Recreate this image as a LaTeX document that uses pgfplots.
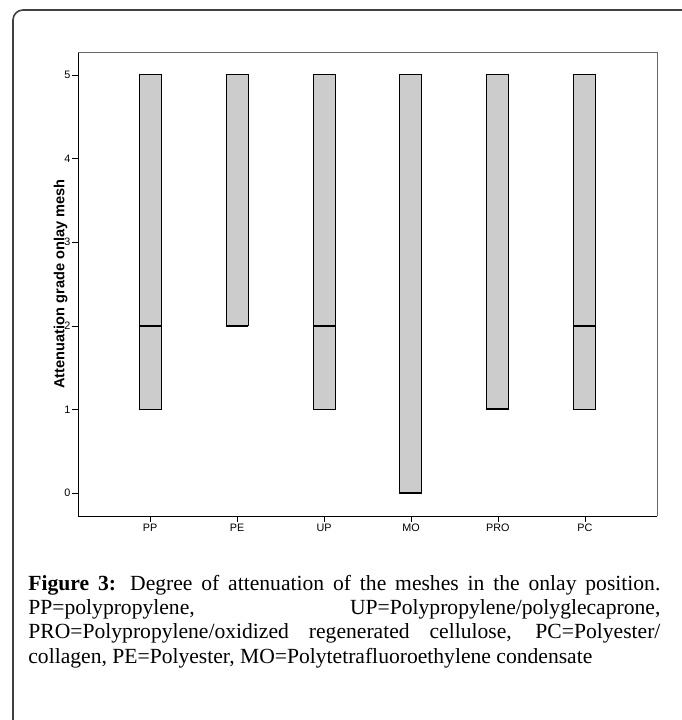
\documentclass[border=0pt]{standalone}
\usepackage{fontspec}
\setmainfont{Liberation Serif}
\setsansfont{Liberation Sans}
\usepackage{pgfplots}
\pgfplotsset{compat=1.18}
\usepgfplotslibrary{statistics}
\definecolor{boxgray}{HTML}{CCCCCC}
\begin{document}
\begin{tikzpicture}
\useasboundingbox (0,0) rectangle (341pt,360pt);
% rounded frame around figure (clipped at right and bottom)
\draw[rounded corners=5pt, line width=0.8pt, black!75] (6.5pt,-10pt) -- (6.5pt,355pt) -- (360pt,355pt);
\begin{axis}[
    at={(39pt,102pt)}, anchor=south west,
    scale only axis,
    width=289.5pt, height=232pt,
    xmin=-0.83, xmax=5.83,
    ymin=-0.275, ymax=5.275,
    axis lines*=left,
    axis line style={-, black},
    xtick={0,1,2,3,4,5},
    xticklabels={PP,PE,UP,MO,PRO,PC},
    ytick={0,1,2,3,4,5},
    tick align=outside,
    major tick length=3pt,
    tick style={black},
    /pgf/number format/assume math mode=true,
    tick label style={font=\sffamily\fontsize{5.4}{6}\selectfont},
    yticklabel style={inner sep=0.6pt},
    xticklabel style={inner sep=1pt},
    ylabel={Attenuation grade onlay mesh},
    ylabel style={at={(axis description cs:-0.03,0.5)}, anchor=center, rotate=0,
        font=\sffamily\bfseries\fontsize{7.3}{8}\selectfont},
    boxplot/draw direction=y,
    boxplot/box extend=0.253,
    boxplot/every median/.style={line width=1pt},
    clip=false,
]
\addplot[boxplot prepared={draw position=0, lower whisker=1, lower quartile=1,
    median=2, upper quartile=5, upper whisker=5}, draw=black, fill=boxgray, line width=0.5pt] coordinates {};
\addplot[boxplot prepared={draw position=1, lower whisker=2, lower quartile=2,
    median=2, upper quartile=5, upper whisker=5}, draw=black, fill=boxgray, line width=0.5pt] coordinates {};
\addplot[boxplot prepared={draw position=2, lower whisker=1, lower quartile=1,
    median=2, upper quartile=5, upper whisker=5}, draw=black, fill=boxgray, line width=0.5pt] coordinates {};
\addplot[boxplot prepared={draw position=3, lower whisker=0, lower quartile=0,
    median=0, upper quartile=5, upper whisker=5}, draw=black, fill=boxgray, line width=0.5pt] coordinates {};
\addplot[boxplot prepared={draw position=4, lower whisker=1, lower quartile=1,
    median=1, upper quartile=5, upper whisker=5}, draw=black, fill=boxgray, line width=0.5pt] coordinates {};
\addplot[boxplot prepared={draw position=5, lower whisker=1, lower quartile=1,
    median=2, upper quartile=5, upper whisker=5}, draw=black, fill=boxgray, line width=0.5pt] coordinates {};
\draw[black!60] (rel axis cs:0,1) -- (rel axis cs:1,1) -- (rel axis cs:1,0);
\end{axis}
\node[anchor=north west, inner sep=0pt, text width=316pt, align=justify] at (14pt,72.8pt)
{\fontsize{10.8}{12.2}\selectfont
\textbf{Figure 3:} Degree of attenuation of the meshes in the onlay position.\linebreak
PP=polypropylene, UP=Polypropylene/polyglecaprone,\linebreak
PRO=Polypropylene/oxidized regenerated cellulose, PC=Polyester/\linebreak
collagen, PE=Polyester, MO=Polytetrafluoroethylene condensate\par};
\end{tikzpicture}
\end{document}
